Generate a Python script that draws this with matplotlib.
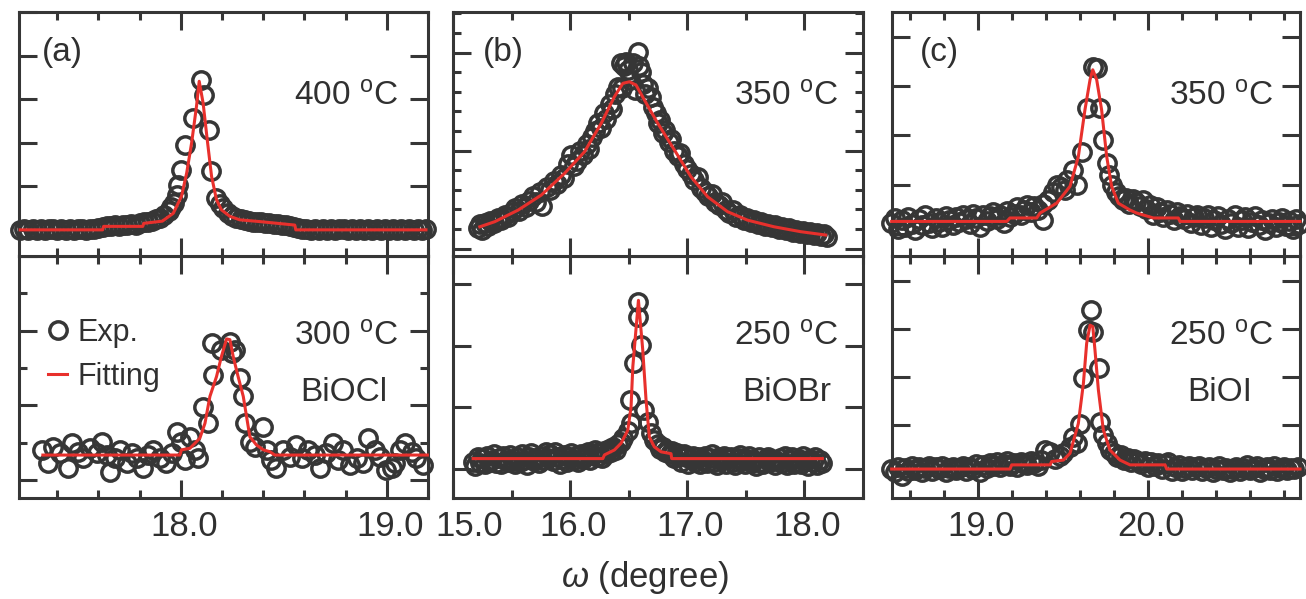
import matplotlib
matplotlib.use("Agg")
import matplotlib.pyplot as plt
import matplotlib.transforms as mtransforms
from matplotlib.ticker import MultipleLocator, NullLocator

# ---- data (arbitrary intensity units) ----

# (a) BiOCl, 400 oC
aT_x = [17.22, 17.24, 17.26, 17.28, 17.30, 17.32, 17.34, 17.36, 17.38, 17.40,
        17.42, 17.44, 17.46, 17.48, 17.50, 17.52, 17.54, 17.56, 17.58, 17.60,
        17.62, 17.64, 17.66, 17.68, 17.70, 17.72, 17.74, 17.76, 17.78, 17.80,
        17.82, 17.84, 17.86, 17.88, 17.90, 17.92, 17.94, 17.95, 17.966, 17.979,
        17.987, 18.003, 18.019, 18.06, 18.10, 18.112, 18.138, 18.145, 18.17, 18.189,
        18.205, 18.23, 18.25, 18.27, 18.29, 18.31, 18.33, 18.35, 18.37, 18.39,
        18.41, 18.43, 18.45, 18.47, 18.49, 18.51, 18.53, 18.55, 18.57, 18.59,
        18.61, 18.63, 18.65, 18.67, 18.69, 18.71, 18.73, 18.75, 18.77, 18.79,
        18.81, 18.83, 18.85, 18.87, 18.89, 18.91, 18.93, 18.95, 18.97, 18.99,
        19.01, 19.03, 19.05, 19.07, 19.09, 19.11, 19.13, 19.15, 19.17, 19.19]
aT_y = [0.00, 0.01, 0.00, 0.02, 0.00, 0.01, 0.00, 0.01, 0.02, 0.00,
        0.01, 0.00, 0.01, 0.00, 0.02, 0.01, 0.00, 0.01, 0.02, 0.05,
        0.07, 0.09, 0.08, 0.11, 0.10, 0.12, 0.11, 0.13, 0.12, 0.15,
        0.17, 0.18, 0.20, 0.24, 0.28, 0.34, 0.44, 0.52, 0.61, 0.80,
        1.03, 1.38, 1.95, 2.57, 3.45, 3.10, 2.30, 1.34, 0.73, 0.60,
        0.50, 0.38, 0.31, 0.27, 0.24, 0.22, 0.21, 0.19, 0.18, 0.17,
        0.16, 0.15, 0.14, 0.13, 0.12, 0.11, 0.09, 0.07, 0.05, 0.03,
        0.01, 0.00, 0.01, 0.00, 0.02, 0.00, 0.01, 0.00, 0.01, 0.02,
        0.00, 0.01, 0.00, 0.01, 0.00, 0.02, 0.00, 0.01, 0.00, 0.01,
        0.00, 0.02, 0.00, 0.01, 0.00, 0.01, 0.00, 0.02, 0.00, 0.01]
aT_fit_x = [17.22, 17.62, 17.625, 17.815, 17.82, 17.91, 17.963, 18.003, 18.028, 18.052,
            18.076, 18.089, 18.108, 18.128, 18.149, 18.173, 18.197, 18.238, 18.286, 18.383,
            18.553, 18.558, 19.19]
aT_fit_y = [0.00, 0.00, 0.08, 0.08, 0.15, 0.20, 0.38, 0.77, 1.30, 1.99,
            2.84, 3.41, 2.91, 2.07, 1.23, 0.69, 0.46, 0.31, 0.23, 0.19,
            0.11, 0.00, 0.00]

# (a) BiOCl, 300 oC
aB_x = [17.324, 17.356, 17.380, 17.413, 17.453, 17.469, 17.502, 17.526, 17.558, 17.591,
        17.615, 17.639, 17.655, 17.680, 17.704, 17.736, 17.761, 17.785, 17.817, 17.841,
        17.866, 17.898, 17.930, 17.955, 17.979, 18.003, 18.019, 18.044, 18.068, 18.084,
        18.108, 18.133, 18.157, 18.149, 18.197, 18.238, 18.246, 18.262, 18.286, 18.303,
        18.311, 18.335, 18.359, 18.400, 18.416, 18.440, 18.464, 18.497, 18.529, 18.561,
        18.586, 18.618, 18.650, 18.675, 18.707, 18.739, 18.764, 18.788, 18.820, 18.853,
        18.885, 18.909, 18.942, 18.966, 18.998, 19.023, 19.039, 19.063, 19.087, 19.120,
        19.144, 19.176]
aB_y = [0.81, 0.45, 0.89, 0.72, 0.31, 0.98, 0.76, 0.58, 0.85, 0.72,
        1.03, 0.67, 0.22, 0.58, 0.81, 0.45, 0.72, 0.58, 0.31, 0.67,
        0.81, 0.58, 0.45, 0.72, 1.30, 1.03, 0.54, 1.16, 0.81, 0.58,
        1.97, 1.52, 2.82, 3.67, 3.49, 3.71, 3.40, 3.49, 2.73, 2.24,
        1.52, 1.03, 0.89, 1.43, 0.81, 0.54, 0.31, 0.81, 0.63, 0.94,
        0.58, 0.81, 0.67, 0.31, 0.72, 0.98, 0.54, 0.81, 0.40, 0.58,
        0.45, 1.12, 0.81, 0.63, 0.27, 0.31, 0.45, 0.81, 0.98, 0.76,
        0.58, 0.40]
aB_fit_x = [17.33, 17.995, 18.003, 18.044, 18.092, 18.117, 18.141, 18.173, 18.197, 18.222,
            18.238, 18.254, 18.278, 18.303, 18.319, 18.335, 18.367, 18.400, 18.432, 18.456,
            19.197]
aB_fit_y = [0.67, 0.67, 0.81, 0.85, 1.12, 1.52, 2.24, 2.77, 3.31, 3.78,
            3.76, 3.31, 2.77, 2.24, 1.70, 1.16, 0.94, 0.81, 0.76, 0.67,
            0.67]

# (b) BiOBr, 350 oC
bT_x = [15.21, 15.23, 15.25, 15.27, 15.30, 15.32, 15.35, 15.38, 15.41, 15.44,
        15.47, 15.50, 15.53, 15.56, 15.59, 15.62, 15.65, 15.68, 15.71, 15.74,
        15.76, 15.80, 15.83, 15.86, 15.89, 15.92, 15.95, 15.98, 16.01, 16.03,
        16.06, 16.08, 16.11, 16.14, 16.16, 16.19, 16.21, 16.24, 16.26, 16.29,
        16.31, 16.34, 16.36, 16.38, 16.41, 16.435, 16.44, 16.46, 16.478, 16.49,
        16.51, 16.535, 16.55, 16.576, 16.59, 16.606, 16.62, 16.64, 16.664, 16.69,
        16.71, 16.73, 16.75, 16.77, 16.79, 16.81, 16.84, 16.86, 16.89, 16.92,
        16.94, 16.97, 17.00, 17.03, 17.06, 17.09, 17.12, 17.15, 17.18, 17.21,
        17.24, 17.27, 17.30, 17.33, 17.36, 17.39, 17.42, 17.45, 17.48, 17.51,
        17.54, 17.57, 17.60, 17.63, 17.66, 17.69, 17.72, 17.75, 17.78, 17.81,
        17.84, 17.87, 17.90, 17.93, 17.96, 17.99, 18.02, 18.05, 18.08, 18.11,
        18.14, 18.17, 18.19]
bT_y = [1.05, 1.25, 0.95, 1.30, 1.15, 1.40, 1.30, 1.55, 1.45, 1.70,
        1.60, 1.85, 2.05, 1.90, 2.25, 2.10, 2.45, 2.70, 2.40, 2.90,
        2.15, 3.15, 3.00, 3.45, 3.30, 3.75, 3.60, 4.30, 4.77, 4.20,
        4.45, 5.00, 4.75, 5.35, 5.10, 5.70, 6.00, 6.40, 6.15, 6.90,
        6.60, 7.40, 7.10, 7.90, 8.25, 9.45, 8.17, 9.30, 9.53, 9.10,
        8.60, 9.45, 8.09, 10.04, 9.30, 9.02, 8.40, 7.90, 8.17, 7.75,
        7.20, 6.90, 6.40, 6.55, 5.90, 6.05, 5.45, 5.60, 5.00, 4.70,
        4.90, 4.30, 4.05, 3.80, 3.50, 3.65, 3.10, 2.90, 2.70, 2.80,
        2.35, 2.20, 2.35, 1.95, 1.80, 1.95, 1.60, 1.70, 1.45, 1.55,
        1.35, 1.45, 1.25, 1.35, 1.15, 1.25, 1.10, 1.20, 1.00, 1.10,
        0.95, 1.05, 0.85, 0.95, 0.80, 0.90, 0.75, 0.85, 0.70, 0.80,
        0.65, 0.75, 0.60]
bT_fit_x = [15.229, 15.356, 15.555, 15.754, 15.953, 16.123, 16.265, 16.378, 16.450, 16.506,
            16.563, 16.634, 16.748, 16.890, 17.032, 17.174, 17.344, 17.514, 17.741, 17.969,
            18.181]
bT_fit_y = [1.11, 1.37, 1.96, 2.73, 3.84, 4.94, 6.39, 7.75, 8.43, 8.51,
            8.34, 7.58, 6.39, 5.03, 3.66, 2.64, 1.88, 1.45, 1.11, 0.86,
            0.69]

# (b) BiOBr, 250 oC
bB_x = [15.17, 15.19, 15.21, 15.23, 15.25, 15.27, 15.29, 15.31, 15.33, 15.35,
        15.37, 15.39, 15.41, 15.43, 15.45, 15.47, 15.49, 15.51, 15.53, 15.55,
        15.57, 15.59, 15.61, 15.63, 15.65, 15.67, 15.69, 15.71, 15.73, 15.75,
        15.77, 15.79, 15.81, 15.83, 15.85, 15.87, 15.89, 15.91, 15.93, 15.95,
        15.97, 15.99, 16.01, 16.03, 16.05, 16.07, 16.09, 16.11, 16.13, 16.15,
        16.17, 16.19, 16.21, 16.23, 16.25, 16.27, 16.29, 16.31, 16.33, 16.35,
        16.37, 16.39, 16.41, 16.43,
        16.45, 16.492, 16.507, 16.521, 16.549, 16.577, 16.577, 16.606, 16.634, 16.663,
        16.69, 16.72,
        16.75, 16.77, 16.79, 16.81, 16.83, 16.85, 16.87, 16.89, 16.91, 16.93,
        16.95, 16.97, 16.99, 17.01, 17.03, 17.05, 17.07, 17.09, 17.11, 17.13,
        17.15, 17.17, 17.19, 17.21, 17.23, 17.25, 17.27, 17.29, 17.31, 17.33,
        17.35, 17.37, 17.39, 17.41, 17.43, 17.45, 17.47, 17.49, 17.51, 17.53,
        17.55, 17.57, 17.59, 17.61, 17.63, 17.65, 17.67, 17.69, 17.71, 17.73,
        17.75, 17.77, 17.79, 17.81, 17.83, 17.85, 17.87, 17.89, 17.91, 17.93,
        17.95, 17.97, 17.99, 18.01, 18.03, 18.05, 18.07, 18.09, 18.11, 18.13,
        18.15]
bB_y = [0.12, 0.05, 0.20, 0.10, 0.18, 0.08, 0.22, 0.12, 0.15, 0.24,
        0.10, 0.18, 0.09, 0.21, 0.14, 0.11, 0.23, 0.13, 0.08, 0.19,
        0.12, 0.25, 0.14, 0.07, 0.20, 0.26, 0.13, 0.18, 0.10, 0.22,
        0.15, 0.28, 0.18, 0.24, 0.13, 0.27, 0.20, 0.09, 0.16, 0.23,
        0.11, 0.19, 0.26, 0.14, 0.21, 0.12, 0.25, 0.17, 0.22, 0.28,
        0.15, 0.24, 0.31, 0.20, 0.27, 0.18, 0.29, 0.24, 0.33, 0.27,
        0.36, 0.31, 0.40, 0.44,
        0.50, 0.61, 1.12, 0.74, 1.72, 2.72, 2.47, 2.01, 0.96, 0.77,
        0.58, 0.47,
        0.40, 0.33, 0.36, 0.28, 0.31, 0.24, 0.30, 0.18, 0.26, 0.22,
        0.12, 0.24, 0.20, 0.09, 0.17, 0.22, 0.11, 0.19, 0.08, 0.15,
        0.21, 0.10, 0.18, 0.25, 0.12, 0.07, 0.19, 0.14, 0.22, 0.09,
        0.16, 0.20, 0.11, 0.06, 0.18, 0.23, 0.13, 0.09, 0.17, 0.21,
        0.10, 0.15, 0.05, 0.19, 0.12, 0.08, 0.16, 0.20, 0.11, 0.14,
        0.07, 0.13, 0.18, 0.10, 0.22, 0.06, 0.15, 0.19, 0.09, 0.12,
        0.17, 0.08, 0.21, 0.13, 0.05, 0.16, 0.11, 0.19, 0.07, 0.14,
        0.10]
bB_fit_x = [15.172, 16.279, 16.293, 16.378, 16.435, 16.492, 16.520, 16.535, 16.583, 16.620,
            16.648, 16.676, 16.719, 16.776, 16.861, 16.867, 18.153]
bB_fit_y = [0.17, 0.17, 0.23, 0.31, 0.42, 0.63, 1.01, 1.66, 2.74, 1.93,
            1.12, 0.52, 0.36, 0.28, 0.25, 0.17, 0.17]

# (c) BiOI, 350 oC
cT_x = [18.49, 18.51, 18.53, 18.55, 18.57, 18.59, 18.61, 18.63, 18.65, 18.67,
        18.69, 18.71, 18.73, 18.75, 18.77, 18.79, 18.81, 18.83, 18.85, 18.87,
        18.89, 18.91, 18.93, 18.95, 18.97, 18.99, 19.01, 19.03, 19.05, 19.07,
        19.09, 19.11, 19.13, 19.15, 19.17, 19.19, 19.21, 19.23, 19.25, 19.27,
        19.29, 19.31, 19.33, 19.35,
        19.384, 19.38, 19.41, 19.44, 19.463, 19.49, 19.522, 19.51, 19.561, 19.58,
        19.61, 19.639, 19.678, 19.698, 19.718, 19.737, 19.757, 19.77, 19.79, 19.81,
        19.83, 19.85, 19.87, 19.89, 19.91, 19.93, 19.95, 19.97, 19.99, 20.01,
        20.03, 20.05, 20.07, 20.09, 20.11, 20.13, 20.15, 20.17, 20.19, 20.21,
        20.23, 20.25, 20.27, 20.29, 20.31, 20.33, 20.35, 20.37, 20.39, 20.41,
        20.43, 20.45, 20.47, 20.49, 20.51, 20.53, 20.55, 20.57, 20.59, 20.61,
        20.63, 20.65, 20.67, 20.69, 20.71, 20.73, 20.75, 20.77, 20.79, 20.81,
        20.83, 20.85, 20.87, 20.89]
cT_y = [0.22, 0.32, 0.10, 0.28, 0.15, 0.35, 0.20, 0.08, 0.30, 0.18,
        0.38, 0.22, 0.12, 0.32, 0.25, 0.15, 0.36, 0.28, 0.18, 0.34,
        0.24, 0.40, 0.30, 0.20, 0.42, 0.33, 0.14, 0.38, 0.26, 0.36,
        0.45, 0.30, 0.40, 0.22, 0.48, 0.35, 0.42, 0.55, 0.38, 0.50,
        0.60, 0.45, 0.58, 0.50,
        0.29, 0.62, 0.70, 0.85, 1.00, 0.96, 1.10, 0.90, 1.30, 1.00,
        1.67, 2.55, 3.39, 3.36, 2.55, 1.91, 1.44, 1.20, 1.00, 0.85,
        0.78, 0.70, 0.74, 0.62, 0.72, 0.66, 0.58, 0.70, 0.52, 0.60,
        0.40, 0.55, 0.46, 0.35, 0.50, 0.42, 0.28, 0.45, 0.36, 0.30,
        0.42, 0.22, 0.35, 0.40, 0.18, 0.32, 0.40, 0.15, 0.28, 0.36,
        0.20, 0.10, 0.30, 0.22, 0.38, 0.14, 0.28, 0.34, 0.12, 0.24,
        0.36, 0.18, 0.28, 0.08, 0.22, 0.30, 0.14, 0.24, 0.33, 0.16,
        0.26, 0.10, 0.30, 0.20]
cT_fit_x = [18.492, 19.169, 19.188, 19.345, 19.365, 19.463, 19.541, 19.590, 19.629, 19.659,
            19.675, 19.698, 19.727, 19.757, 19.786, 19.825, 19.894, 19.933, 20.031, 20.178,
            20.188, 20.894]
cT_fit_y = [0.26, 0.26, 0.33, 0.33, 0.43, 0.63, 0.97, 1.57, 2.52, 3.13,
            3.33, 3.13, 2.52, 1.57, 0.97, 0.63, 0.49, 0.43, 0.33, 0.33,
            0.26, 0.26]

# (c) BiOI, 250 oC
cB_x = [18.49, 18.51, 18.53, 18.55, 18.57, 18.59, 18.61, 18.63, 18.65, 18.67,
        18.69, 18.71, 18.73, 18.75, 18.77, 18.79, 18.81, 18.83, 18.85, 18.87,
        18.89, 18.91, 18.93, 18.95, 18.97, 18.99, 19.01, 19.03, 19.05, 19.07,
        19.09, 19.11, 19.13, 19.15, 19.17, 19.19, 19.21, 19.23, 19.25, 19.27,
        19.29, 19.31, 19.33, 19.35, 19.37,
        19.394, 19.424, 19.45, 19.48, 19.502, 19.541, 19.561, 19.58, 19.60, 19.62,
        19.645, 19.663, 19.678, 19.714, 19.718, 19.737, 19.757, 19.776,
        19.80, 19.82, 19.84, 19.86, 19.88, 19.90, 19.92, 19.94, 19.96, 19.98,
        20.00, 20.02, 20.04, 20.06, 20.08, 20.10, 20.12, 20.14, 20.16, 20.18,
        20.20, 20.22, 20.24, 20.26, 20.28, 20.30, 20.32, 20.34, 20.36, 20.38,
        20.40, 20.42, 20.44, 20.46, 20.48, 20.50, 20.52, 20.54, 20.56, 20.58,
        20.60, 20.62, 20.64, 20.66, 20.68, 20.70, 20.72, 20.74, 20.76, 20.78,
        20.80, 20.82, 20.84, 20.86, 20.88]
cB_y = [0.08, 0.02, 0.12, -0.06, 0.10, 0.04, 0.14, 0.06, 0.12, 0.02,
        0.10, 0.15, 0.05, 0.12, 0.08, 0.14, 0.03, 0.10, 0.13, 0.06,
        0.11, 0.15, 0.05, 0.12, 0.09, 0.18, 0.02, 0.16, 0.10, 0.20,
        0.14, 0.22, 0.12, 0.18, 0.25, 0.15, 0.21, 0.13, 0.24, 0.19,
        0.16, 0.26, 0.20, 0.14, 0.28,
        0.48, 0.44, 0.30, 0.35, 0.41, 0.55, 0.76, 0.62, 1.03, 1.97,
        2.98, 3.40, 2.94, 2.18, 1.07, 0.79, 0.62, 0.48,
        0.41, 0.34, 0.38, 0.28, 0.32, 0.22, 0.30, 0.25, 0.18, 0.26,
        0.12, 0.22, 0.15, 0.20, 0.08, 0.18, 0.24, 0.05, 0.12, 0.16,
        0.04, 0.10, 0.14, 0.06, 0.12, 0.15, 0.04, 0.10, 0.13, 0.02,
        0.09, 0.14, 0.07, 0.11, 0.03, 0.08, 0.13, 0.05, 0.11, 0.16,
        0.06, 0.10, 0.14, 0.03, 0.09, 0.12, 0.07, 0.15, 0.04, 0.10,
        0.13, 0.06, 0.11, 0.08, 0.12]
cB_fit_x = [18.492, 19.188, 19.198, 19.424, 19.433, 19.502, 19.541, 19.590, 19.620, 19.639,
            19.659, 19.675, 19.688, 19.708, 19.737, 19.776, 19.835, 19.894, 20.100, 20.110,
            20.894]
cB_fit_y = [0.083, 0.083, 0.17, 0.17, 0.24, 0.27, 0.41, 1.03, 1.87, 2.70,
            3.08, 3.05, 2.56, 1.73, 0.90, 0.48, 0.27, 0.17, 0.17, 0.083,
            0.083]

a_ticks = [18.0, 19.0]
b_ticks = [15.0, 16.0, 17.0, 18.0]
c_ticks = [19.0, 20.0]

panel_tags = ["(a)", "(b)", "(c)"]
top_temps = ["400 $^{\\mathrm{o}}$C", "350 $^{\\mathrm{o}}$C", "350 $^{\\mathrm{o}}$C"]
bot_temps = ["300 $^{\\mathrm{o}}$C", "250 $^{\\mathrm{o}}$C", "250 $^{\\mathrm{o}}$C"]
materials = ["BiOCl", "BiOBr", "BiOI"]

# ---- style ----
plt.rcParams["font.family"] = ["Liberation Sans", "DejaVu Sans"]
plt.rcParams["mathtext.fontset"] = "custom"
plt.rcParams["mathtext.rm"] = "Liberation Sans"
plt.rcParams["mathtext.it"] = "Liberation Sans:italic"

DARK = "#363636"
RED = "#e8302c"
W, H = 1306, 599

fig = plt.figure(figsize=(W / 100, H / 100), dpi=100)


def add_ax(left, width, top, height, sharex=None):
    return fig.add_axes([left / W, 1 - (top + height) / H, width / W, height / H], sharex=sharex)


def style(ax, ymaj, ymin):
    ax.yaxis.set_major_locator(MultipleLocator(ymaj))
    if ymin:
        ax.yaxis.set_minor_locator(MultipleLocator(ymin))
    else:
        ax.yaxis.set_minor_locator(NullLocator())
    ax.tick_params(which="both", direction="in", top=True, right=True,
                   width=2.2, color=DARK, labelleft=False, labelsize=25,
                   labelcolor="#303030", pad=9)
    ax.tick_params(which="major", length=13)
    ax.tick_params(which="minor", length=5.5)
    for s in ax.spines.values():
        s.set_linewidth(2.2)
        s.set_color(DARK)


def draw(ax, x, y, fx, fy):
    exp, = ax.plot(x, y, "o", mfc="none", mec=DARK, ms=12.5, mew=2.5,
                   clip_on=False, zorder=3, label="Exp.")
    fit, = ax.plot(fx, fy, color=RED, lw=2.2, zorder=4, clip_on=False, label="Fitting")
    return exp, fit


cols = [
    dict(left=19, width=409, xlim=(17.214, 19.2), minor=0.2, ticks=a_ticks,
         top=(aT_x, aT_y, aT_fit_x, aT_fit_y, (-0.6, 5.0), 1, None),
         bot=(aB_x, aB_y, aB_fit_x, aB_fit_y, (-0.48, 6.0), 2, 1),
         tagx=0.056, tx=0.927, mx=0.795),
    dict(left=453, width=410, xlim=(15.0, 18.5), minor=0.5, ticks=b_ticks,
         top=(bT_x, bT_y, bT_fit_x, bT_fit_y, (-0.38, 12.07), 5, 1),
         bot=(bB_x, bB_y, bB_fit_x, bB_fit_y, (-0.47, 3.46), 1, None),
         tagx=0.073, tx=0.939, mx=0.815),
    dict(left=892, width=408, xlim=(18.494, 20.894), minor=0.2, ticks=c_ticks,
         top=(cT_x, cT_y, cT_fit_x, cT_fit_y, (-0.44, 4.5), 1, None),
         bot=(cB_x, cB_y, cB_fit_x, cB_fit_y, (-0.52, 4.52), 1, None),
         tagx=0.069, tx=0.934, mx=0.804),
]

txt = dict(fontsize=24, color="#303030", va="center")

for i, c in enumerate(cols):
    ax_b = add_ax(c["left"], c["width"], 256, 242)
    ax_t = add_ax(c["left"], c["width"], 12, 244, sharex=ax_b)

    for ax, key in ((ax_t, "top"), (ax_b, "bot")):
        x, y, fx, fy, ylim, ymaj, ymin = c[key]
        handles = draw(ax, x, y, fx, fy)
        ax.set_ylim(*ylim)
        style(ax, ymaj, ymin)
        if i == 0 and key == "bot":
            ax.legend(handles=handles, loc="center left", bbox_to_anchor=(0.071, 0.591),
                      frameon=False, fontsize=22, handlelength=0.62, handletextpad=0.36,
                      labelspacing=0.45, borderpad=0, borderaxespad=0, numpoints=1,
                      labelcolor="#303030")

    ax_b.set_xlim(*c["xlim"])
    ax_b.set_xticks(c["ticks"], [f"{t:.1f}" for t in c["ticks"]])
    ax_b.xaxis.set_minor_locator(MultipleLocator(c["minor"]))
    ax_t.tick_params(labelbottom=False)

    # nudge the tick labels a little to the right, as in the source figure
    for lab, t in zip(ax_b.get_xticklabels(), c["ticks"]):
        dx = 16 if t == 15.0 else 3
        lab.set_transform(lab.get_transform() + mtransforms.ScaledTranslation(dx / 100, 0, fig.dpi_scale_trans))

    ax_t.text(c["tagx"], 0.836, panel_tags[i], transform=ax_t.transAxes, ha="left", **txt)
    ax_t.text(c["tx"], 0.652, top_temps[i], transform=ax_t.transAxes, ha="right", **txt)
    ax_b.text(c["tx"], 0.665, bot_temps[i], transform=ax_b.transAxes, ha="right", **txt)
    ax_b.text(c["mx"], 0.438, materials[i], transform=ax_b.transAxes, ha="center", **txt)

fig.text(645 / W, 1 - 578 / H, r"$\omega$ (degree)", ha="center", va="center",
         fontsize=25, color="#303030")

fig.savefig("out.png", dpi=100)
